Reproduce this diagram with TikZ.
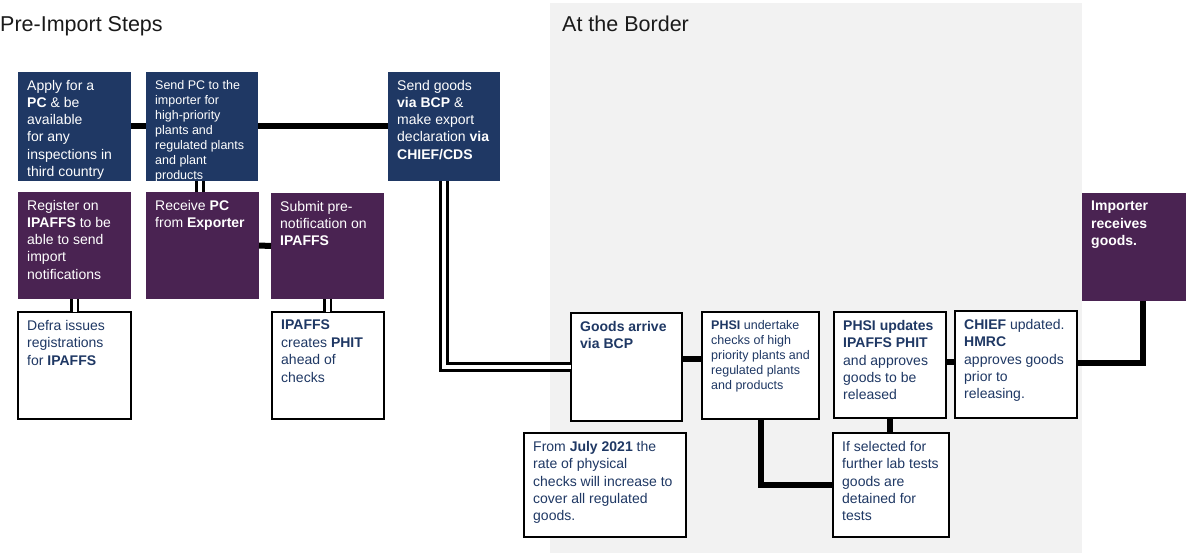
\documentclass[tikz,border=0pt]{standalone}
\usepackage{fontspec}
\setmainfont{Liberation Sans}
\definecolor{navy}{HTML}{1F3864}
\definecolor{purp}{HTML}{4A2352}
\definecolor{bgray}{HTML}{F2F2F2}
\definecolor{ttl}{HTML}{1A1A1A}
\tikzset{
  navybox/.style={fill=navy},
  purpbox/.style={fill=purp},
  whitebox/.style={fill=white, draw=black, line width=1.8pt},
  lighttext/.style={text=white, font=\fontsize{14}{17.2}\selectfont},
  lightsmall/.style={text=white, font=\fontsize{12.5}{15}\selectfont},
  darktext/.style={text=navy, font=\fontsize{14}{17.4}\selectfont},
  darksmall/.style={text=navy, font=\fontsize{12.5}{15}\selectfont},
  conn/.style={draw=black, line width=6pt},
  dbl/.style={draw=black, double=white, double distance=4pt, line width=2.8pt},
  ttlstyle/.style={text=ttl, font=\fontsize{21.5}{25}\selectfont, inner sep=0pt}
}
\newcommand{\mkbox}[8]{%
  \node[#2, anchor=north west, minimum width=#6pt, minimum height=#7pt, inner sep=0pt, outer sep=0pt] (#1) at (#4,#5) {};
  \node[#3, anchor=north west, inner sep=0pt, align=left] (#1t) at ([xshift=9pt,yshift=-8pt]#1.north west) {#8};
}
\begin{document}
\begin{tikzpicture}[x=1pt,y=-1pt]
\useasboundingbox (0,0) rectangle (1186,553);
\fill[bgray] (550,3) rectangle (1082,553);
\node[ttlstyle, anchor=base west] (t1) at (0,32) {Pre-Import Steps};
\node[ttlstyle, anchor=base west] (t2) at (562,32) {At the Border};

% row 1
\mkbox{A}{navybox}{lighttext}{18}{72}{113}{109}{Apply for a\\\textbf{PC} \& be\\available\\for any\\inspections in\\third country}
\mkbox{B}{navybox}{lightsmall}{146}{72}{112}{109}{Send PC to the\\importer for\\high-priority\\plants and\\regulated plants\\and plant\\products}
\mkbox{C}{navybox}{lighttext}{388}{72}{112}{109}{Send goods\\\textbf{via BCP} \&\\make export\\declaration \textbf{via}\\\textbf{CHIEF/CDS}}
% row 2
\mkbox{D}{purpbox}{lighttext}{18}{192}{113}{107}{Register on\\\textbf{IPAFFS} to be\\able to send\\import\\notifications}
\mkbox{E}{purpbox}{lighttext}{146}{192}{113}{107}{Receive \textbf{PC}\\from \textbf{Exporter}}
\mkbox{F}{purpbox}{lighttext}{271}{193}{113}{106}{Submit pre-\\notification on\\\textbf{IPAFFS}}
% row 3
\mkbox{G}{whitebox}{darktext}{18}{312}{113}{107}{Defra issues\\registrations\\for \textbf{IPAFFS}}
\mkbox{H}{whitebox}{darktext}{272}{312}{112}{107}{\textbf{IPAFFS}\\creates \textbf{PHIT}\\ahead of\\checks}
% border
\mkbox{I}{whitebox}{darktext}{571}{313}{111}{108}{\textbf{Goods arrive}\\\textbf{via BCP}}
\mkbox{J}{whitebox}{darksmall}{702}{312}{117}{107}{\textbf{PHSI} undertake\\checks of high\\priority plants and\\regulated plants\\and products}
\mkbox{K}{whitebox}{darktext}{834}{312}{112}{106}{\textbf{PHSI updates}\\\textbf{IPAFFS PHIT}\\and approves\\goods to be\\released}
\mkbox{L}{whitebox}{darktext}{955}{311}{122}{107}{\textbf{CHIEF} updated.\\\textbf{HMRC}\\approves goods\\prior to\\releasing.}
\mkbox{M}{whitebox}{darktext}{524}{433}{162}{104}{From \textbf{July 2021} the\\rate of physical\\checks will increase to\\cover all regulated\\goods.}
\mkbox{N}{whitebox}{darktext}{833}{433}{116}{104}{If selected for\\further lab tests\\goods are\\detained for\\tests}
\mkbox{O}{purpbox}{lighttext}{1082}{193}{104}{108}{\textbf{Importer}\\\textbf{receives}\\\textbf{goods.}}

% connectors
\draw[conn] (A.east) -- (B.west);
\draw[conn] (B.east) -- (C.west);
\draw[conn] (E.east) -- (F.west);
\draw[dbl] ([xshift=-2pt]B.south) -- ([xshift=-2pt]B.south |- E.north);
\draw[dbl] (D.south) -- (G.north);
\draw[dbl] (F.south) -- (F.south |- H.north);
\draw[dbl] (C.south) |- (I.west);
\coordinate (ij) at ([yshift=8pt]I.east);
\draw[conn] (ij) -- (ij -| J.west);
\coordinate (kl) at ([yshift=3pt]K.east);
\draw[conn] (kl) -- (kl -| L.west);
\coordinate (lo) at ([yshift=2pt]L.east);
\coordinate (ob) at ([xshift=9pt]O.south);
\draw[conn] (lo) -| (ob);
\draw[conn] (J.south) |- (N.west);
\draw[conn] (K.south) -- (K.south |- N.north);
\end{tikzpicture}
\end{document}
